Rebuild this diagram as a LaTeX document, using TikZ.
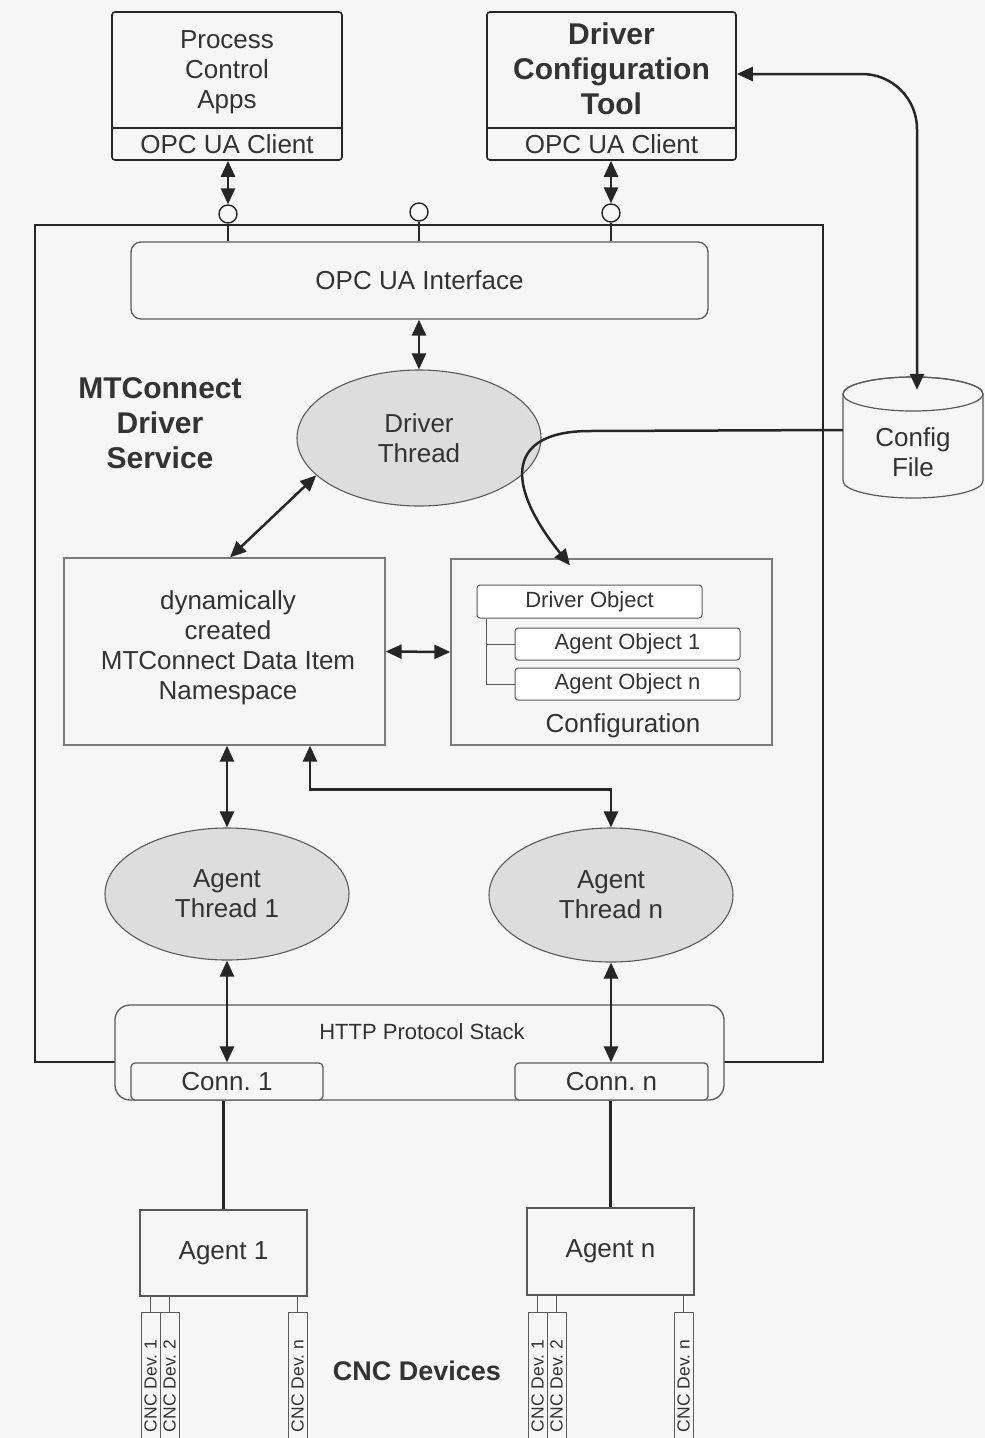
\documentclass[tikz,border=0pt]{standalone}
\usepackage{fontspec}
\setmainfont{Liberation Sans}
\usetikzlibrary{arrows.meta,shapes.geometric,calc}

\definecolor{bg}{HTML}{F6F6F6}
\definecolor{ink}{HTML}{262626}
\definecolor{txt}{HTML}{333333}
\definecolor{thread}{HTML}{DCDDDC}
\definecolor{frame}{HTML}{7A7A7A}
\definecolor{soft}{HTML}{5A5A5A}

\begin{document}
\frenchspacing
\begin{tikzpicture}[x=1pt,y=-1pt,
  every node/.style={text=txt},
  big/.style={font=\fontsize{26}{30}\selectfont, align=center},
  bigbold/.style={font=\bfseries\fontsize{30}{35}\selectfont, align=center},
  small/.style={font=\fontsize{22}{26}\selectfont, align=center},
  devfont/.style={font=\fontsize{17.5}{19}\selectfont},
  shell/.style={inner sep=0pt, minimum width=#1},
  appbox/.style={draw=ink, line width=1.6pt, rounded corners=3pt, inner sep=0pt},
  grey box/.style={draw=frame, line width=1.3pt, fill=bg, inner sep=0pt},
  objbox/.style={draw=soft, line width=1pt, rounded corners=3pt, fill=white, inner sep=0pt,
    font=\fontsize{22}{26}\selectfont},
  thread box/.style={ellipse, draw=soft, line width=1.1pt, fill=thread, inner sep=0pt, align=center,
    font=\fontsize{26}{30}\selectfont},
  port/.style={circle, draw=ink, line width=1.4pt, fill=bg, minimum size=18pt, inner sep=0pt},
  plain/.style={draw=ink, line width=2.2pt},
  thin/.style={draw=ink, line width=1.3pt},
  tip/.tip={Triangle[length=16pt,width=14pt]},
  link/.style={draw=ink, line width=2.5pt, tip-tip},
  oneway/.style={draw=ink, line width=2.5pt, -tip},
  device/.style={draw=soft, line width=1pt, fill=bg, rotate=90, minimum width=148pt,
    minimum height=19pt, inner sep=0pt, devfont},
]
\clip (0,0) rectangle (985,1438);
\fill[bg] (0,0) rectangle (985,1438);
\useasboundingbox (0,0) rectangle (985,1438);

% ---------- clients ----------
\node[appbox, minimum width=230pt, minimum height=148pt] (pca) at (227,86) {};
\draw[draw=ink, line width=1.6pt] (pca.west |- 0,128) -- (pca.east |- 0,128);
\node[big] (pcatitle) at (227,72) {Process\\Control\\Apps};
\node[big] (pcaclient) at (227,144) {OPC UA Client};

\node[appbox, minimum width=249pt, minimum height=148pt] (dct) at (611.5,86) {};
\draw[draw=ink, line width=1.6pt] (dct.west |- 0,128) -- (dct.east |- 0,128);
\node[bigbold] (dcttitle) at (611.5,68.5) {Driver\\Configuration\\Tool};
\node[big] (dctclient) at (611.5,144) {OPC UA Client};

% ---------- driver service frame ----------
\node[draw=ink, line width=2.2pt, minimum width=788pt, minimum height=837pt, inner sep=0pt]
  (svc) at (429,643.5) {};
\node[bigbold] (svctitle) at (160,423) {MTConnect\\Driver\\Service};

% interface ports on the frame
\node[port] (p1) at (228,214) {};
\node[port] (p2) at (419,212) {};
\node[port] (p3) at (611,213) {};

\node[draw=soft, line width=1.3pt, rounded corners=10pt, fill=bg, minimum width=577pt,
  minimum height=77pt, big] (opc) at (419.5,280.5) {OPC UA Interface};

\draw[thin] (p1.south) -- (p1.south |- opc.north);
\draw[thin] (p2.south) -- (p2.south |- opc.north);
\draw[thin] (p3.south) -- (p3.south |- opc.north);

\draw[link] (pca.south -| p1.north) -- (p1.north);
\draw[link] (dct.south -| p3.north) -- (p3.north);

% ---------- threads and data ----------
\node[thread box, minimum width=244pt, minimum height=136pt] (drv) at (419,438) {Driver\\Thread};
\draw[link] (opc.south -| drv.north) -- (drv.north);

\node[grey box, minimum width=321pt, minimum height=187pt] (ns) at (224.5,651.5) {};
\node[big] (nstext) at (228,648) {dynamically\\created\\MTConnect Data Item\\Namespace};

\node[grey box, minimum width=321pt, minimum height=186pt] (cfg) at (611.5,652) {};
\node[objbox, minimum width=225pt, minimum height=33pt] (dobj) at (589.5,601.5) {Driver Object};
\node[objbox, minimum width=225pt, minimum height=32pt] (ao1) at (627.5,644) {Agent Object 1};
\node[objbox, minimum width=225pt, minimum height=32pt] (aon) at (627.5,684) {Agent Object n};
\draw[draw=soft, line width=1pt] ([xshift=10pt]dobj.south west) |- (ao1.west);
\draw[draw=soft, line width=1pt] ([xshift=10pt]dobj.south west) |- (aon.west);
\node[big] (cfgtitle) at (623,726) {Configuration};

\draw[link] (drv.200) -- ([xshift=5.5pt]ns.north);
\draw[link] (ns.east) -- (cfg.west);

\node[thread box, minimum width=244pt, minimum height=132pt] (at1) at (227,894) {Agent\\Thread 1};
\node[thread box, minimum width=244pt, minimum height=134pt] (atn) at (611,895) {Agent\\Thread n};

\draw[link] (ns.south -| at1.north) -- (at1.north);
\draw[link] (atn.north) -- ++(0,-38) -| ([xshift=85.5pt]ns.south);

% ---------- protocol stack ----------
\node[draw=soft, line width=1.3pt, rounded corners=15pt, fill=bg, minimum width=609pt,
  minimum height=95pt, inner sep=0pt] (http) at (419.5,1052.5) {};
\node[small] (httptext) at (422,1032) {HTTP Protocol Stack};
\node[draw=soft, line width=1.2pt, rounded corners=4pt, fill=bg, minimum width=192pt,
  minimum height=37pt, inner sep=0pt, big] (c1) at (227,1081.5) {Conn. 1};
\node[draw=soft, line width=1.2pt, rounded corners=4pt, fill=bg, minimum width=193pt,
  minimum height=37pt, inner sep=0pt, big] (cn) at (611.5,1081.5) {Conn. n};

\draw[link] (at1.south) -- (at1.south |- c1.north);
\draw[link] (atn.south) -- (atn.south |- cn.north);

% ---------- configuration file ----------
\node[shell=140pt, minimum height=121pt] (cfgf) at (913,437.5) {};
\draw[draw=soft, line width=1.2pt, fill=bg]
  (843,394) -- (843,481) arc[start angle=180, end angle=0, x radius=70, y radius=17]
  -- (983,394) arc[start angle=0, end angle=-180, x radius=70, y radius=17] -- cycle;
\draw[draw=soft, line width=1.2pt] (913,394) ellipse[x radius=70, y radius=17];
\node[big] (cfgtext) at (913,452.5) {Config\\File};

\draw[link, rounded corners=55pt] ([yshift=12pt]dct.east) -| ([xshift=4pt,yshift=-13pt]cfgf.north);
\draw[oneway] ([yshift=7.5pt]cfgf.west) -- (590,431)
  .. controls (508,431) and (503,482) .. ([xshift=-41.5pt,yshift=-7pt]cfg.north);

% ---------- agents and devices ----------
\node[draw=soft, line width=1.2pt, fill=bg, minimum width=167pt, minimum height=86pt,
  inner sep=0pt, big] (ag1) at (223.5,1253) {Agent 1};
\node[draw=soft, line width=1.2pt, fill=bg, minimum width=167pt, minimum height=87pt,
  inner sep=0pt, big] (agn) at (610.5,1251.5) {Agent n};

\draw[plain] (c1.south -| ag1.north) -- (ag1.north);
\draw[plain] (cn.south -| agn.north) -- (agn.north);

\node[device] (d11) at (150.5,1386) {CNC Dev. 1};
\node[device] (d12) at (169.5,1386) {CNC Dev. 2};
\node[device] (d1n) at (297.5,1386) {CNC Dev. n};
\node[device] (dn1) at (537.5,1386) {CNC Dev. 1};
\node[device] (dn2) at (556.5,1386) {CNC Dev. 2};
\node[device] (dnn) at (683.5,1386) {CNC Dev. n};

\foreach \d in {d11,d12,d1n} \draw[draw=soft, line width=1pt] (\d.east) -- (\d.east |- ag1.south);
\foreach \d in {dn1,dn2,dnn} \draw[draw=soft, line width=1pt] (\d.east) -- (\d.east |- agn.south);

\node[font=\bfseries\fontsize{27}{32}\selectfont] (cnc) at (417,1371) {CNC Devices};
\end{tikzpicture}
\end{document}
